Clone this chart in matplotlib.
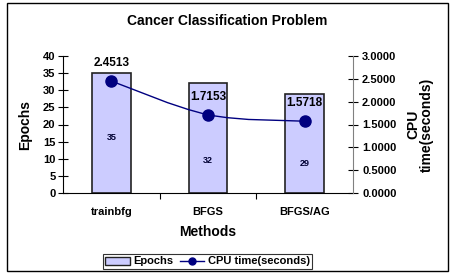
import matplotlib
matplotlib.use("Agg")
import matplotlib.pyplot as plt
from matplotlib.path import Path
from matplotlib.patches import PathPatch, Rectangle
from matplotlib.lines import Line2D
import numpy as np

plt.rcParams['font.family'] = ['Liberation Sans', 'DejaVu Sans']
plt.rcParams['font.weight'] = 'bold'

methods = ["trainbfg", "BFGS", "BFGS/AG"]
epochs = [35, 32, 29]
cpu_time = [2.4513, 1.7153, 1.5718]
cpu_labels = ["2.4513", "1.7153", "1.5718"]
epoch_label_frac = [0.467, 0.298, 0.295]

title = "Cancer Classification Problem"
left_ticks = [0, 5, 10, 15, 20, 25, 30, 35, 40]
right_ticks = [0.0, 0.5, 1.0, 1.5, 2.0, 2.5, 3.0]

bar_color = "#CCCCFF"
line_color = "#000080"

W, H = 454, 274
fig = plt.figure(figsize=(W / 100, H / 100), dpi=100)
fig.patch.set_facecolor("white")

ax = fig.add_axes([63 / W, 1 - 193 / H, (353 - 63) / W, (193 - 56) / H])
x = np.arange(len(methods))
bars = ax.bar(x, epochs, width=0.4, color=bar_color, edgecolor="#222222",
              linewidth=1.2, zorder=2)
ax.set_xlim(-0.5, len(methods) - 0.5)
ax.set_ylim(0, 40)
ax.set_yticks(left_ticks)
ax.set_yticklabels([str(v) for v in left_ticks], fontsize=8, fontweight="bold")
ax.set_xticks(x)
ax.set_xticklabels(methods, fontsize=8, fontweight="bold")
ax.tick_params(axis="x", which="major", length=0, pad=10)
ax.set_xticks(np.arange(0.5, len(methods) - 1, 1.0), minor=True)
ax.tick_params(axis="x", which="minor", length=4, direction="out", width=0.8)
ax.tick_params(axis="y", direction="inout", length=7, width=0.8, pad=2)
ax.spines["top"].set_visible(False)
ax.spines["right"].set_visible(False)
ax.spines["left"].set_color("black")
ax.spines["bottom"].set_color("black")
ax.set_ylabel("Epochs", fontsize=10, fontweight="bold", labelpad=8)
ax.set_xlabel("Methods", fontsize=10, fontweight="bold", labelpad=6)

for xi, e, f in zip(x, epochs, epoch_label_frac):
    ax.text(xi, e * f, str(e), ha="center", va="center", fontsize=6.5,
            fontweight="bold", color="#000033", zorder=3)

ax2 = ax.twinx()
ax2.set_ylim(0, 3)
ax2.set_yticks(right_ticks)
ax2.set_yticklabels([f"{v:.4f}" for v in right_ticks], fontsize=8, fontweight="bold")
ax2.tick_params(axis="y", direction="inout", length=7, width=0.8, pad=3)
for s in ["top", "left", "bottom"]:
    ax2.spines[s].set_visible(False)
ax2.spines["right"].set_color("#808080")
ax2.set_ylabel("CPU\ntime(seconds)", fontsize=10, fontweight="bold",
               labelpad=7, linespacing=1.0)

# smooth line through the data points (Catmull-Rom as cubic Bezier)
pts = np.column_stack([x, cpu_time]).astype(float)
ext = np.vstack([pts[0], pts, pts[-1]])
verts = [tuple(pts[0])]
codes = [Path.MOVETO]
for i in range(len(pts) - 1):
    p0, p1, p2, p3 = ext[i], ext[i + 1], ext[i + 2], ext[i + 3]
    c1 = p1 + (p2 - p0) / 6
    c2 = p2 - (p3 - p1) / 6
    verts += [tuple(c1), tuple(c2), tuple(p2)]
    codes += [Path.CURVE4] * 3
ax2.add_patch(PathPatch(Path(verts, codes), facecolor="none",
                        edgecolor=line_color, linewidth=1.0, zorder=3))
ax2.plot(x, cpu_time, linestyle="none", marker="o", markersize=8,
         color=line_color, zorder=4)
for xi, v, lab in zip(x, cpu_time, cpu_labels):
    ax2.annotate(lab, (xi, v), xytext=(0, 13), textcoords="offset points",
                 ha="center", va="center", fontsize=8.5, fontweight="bold",
                 color="black", zorder=5)

fig.text(0.5, 1 - 21 / H, title, ha="center", va="center", fontsize=10,
         fontweight="bold")

handles = [Rectangle((0, 0), 1, 1, facecolor=bar_color, edgecolor="#222222", linewidth=1.0),
           Line2D([0], [0], color=line_color, marker="o", markersize=5, linewidth=1.0)]
leg = fig.legend(handles, ["Epochs", "CPU time(seconds)"], loc="center",
                 bbox_to_anchor=(207.5 / W, 1 - 261.5 / H), ncol=2,
                 prop={"size": 8, "weight": "bold"}, frameon=True, fancybox=False,
                 handlelength=2.2, handletextpad=0.3, columnspacing=0.6,
                 borderpad=0.25, handleheight=0.7)
leg.get_frame().set_edgecolor("black")
leg.get_frame().set_linewidth(0.8)

fig.add_artist(Rectangle((7 / W, 3 / H), (448 - 7) / W, (271 - 3) / H,
                         transform=fig.transFigure, facecolor="none",
                         edgecolor="black", linewidth=1.0))

fig.savefig("out.png", dpi=100)
